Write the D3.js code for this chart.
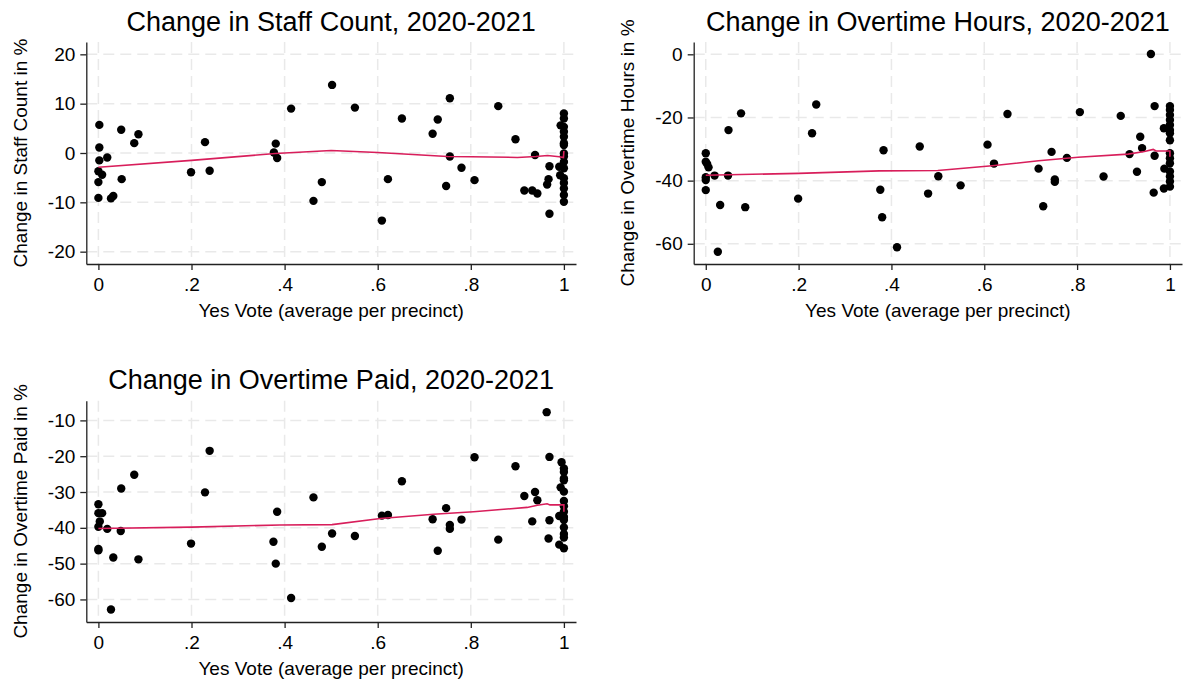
<!DOCTYPE html>
<html>
<head>
<meta charset="utf-8">
<script src="https://cdn.jsdelivr.net/npm/d3@7"></script>
<style>
  body { margin: 0; background: #fff; }
  svg text { font-family: "Liberation Sans", Arial, sans-serif; fill: #000; }
</style>
</head>
<body>
<svg class="chart" width="1183" height="685"></svg>
<script>

// shared axis ticks
let xTicks = [0, 0.2, 0.4, 0.6, 0.8, 1]

// Change in Staff Count
let staffX = [0.002, 0.002, 0.002, 0.019, 0, 0.008, 0, 0, 0.027, 0.032, 0.05, 0.049, 0.077, 0.086,
  0.199, 0.229, 0.239, 0.381, 0.377, 0.384, 0.414, 0.462, 0.48, 0.502, 0.551, 0.609, 0.622, 0.652,
  0.718, 0.729, 0.747, 0.755, 0.755, 0.78, 0.808, 0.859, 0.896, 0.915, 0.932, 0.943, 0.938,
  0.964, 0.967, 0.969, 0.969, 0.99, 0.993, 0.992,
  1, 1, 1, 1, 1, 1, 1, 1, 1, 1, 1, 1, 1, 1, 1, 1]
let staffY = [5.7, 1.1, -1.5, -0.9, -3.7, -4.4, -5.9, -9.1, -9.2, -8.7, -5.3, 4.7, 2.0, 3.8,
  -3.9, 2.2, -3.6, 1.9, 0.1, -1.0, 9.0, -9.7, -5.9, 13.8, 9.2, -13.7, -5.3, 7.0,
  3.9, 6.8, -6.7, 11.1, -0.7, -3.0, -5.5, 9.5, 2.8, -7.6, -7.6, -8.2, -0.4,
  -6.4, -5.3, -2.7, -12.3, -2.8, 5.6, -4.5,
  8.0, 7.0, 5.3, 4.3, 3.3, 2.0, 1.6, -0.1, -0.7, -1.8, -3.1, -5.1, -6.1, -7.2, -8.5, -9.9]
let staffFitX = [0, 0.2, 0.38, 0.5, 0.6, 0.75, 0.8, 0.9, 0.94, 0.965, 0.99, 0.999, 1]
let staffFitY = [-2.9, -1.5, -0.1, 0.5, 0.1, -0.7, -0.75, -0.9, -0.7, -0.5, -0.75, -0.9, 0.4]
let staffTicks = [-20, -10, 0, 10, 20]

// Change in Overtime Hours
let hoursX = [0.076, 0.049, 0, 0, 0.003, 0.006, 0, 0, 0.019, 0.048, 0, 0.031, 0.085, 0.026,
  0.199, 0.229, 0.238, 0.376, 0.383, 0.38, 0.412, 0.461, 0.479, 0.501, 0.549, 0.607, 0.621, 0.65,
  0.717, 0.727, 0.745, 0.752, 0.752, 0.778, 0.806, 0.857, 0.894, 0.913, 0.936, 0.94, 0.929,
  0.959, 0.967, 0.967, 0.965, 0.987, 0.988, 0.987,
  1, 1, 1, 1, 1, 1, 1, 1, 1, 1, 1, 1, 1, 1, 1]
let hoursY = [-18.7, -24.0, -31.3, -34.0, -34.7, -35.8, -38.9, -39.8, -38.4, -38.4, -43.0, -47.7, -48.4, -62.5,
  -45.7, -25.0, -15.9, -42.9, -30.4, -51.6, -61.1, -29.2, -44.1, -38.6, -41.5, -28.6, -34.6, -18.9,
  -36.2, -48.1, -30.9, -39.6, -40.4, -32.8, -18.3, -38.7, -19.5, -31.6, -26.1, -29.7, -37.2,
  0.1, -16.4, -32.1, -43.8, -23.4, -36.2, -42.5,
  -16.4, -17.6, -19.2, -20.8, -22.4, -24.0, -25.0, -27.2, -31.3, -32.9, -34.5, -37.1, -38.7, -40.3, -41.9]
let hoursFitX = [0, 0.2, 0.374, 0.5, 0.617, 0.717, 0.802, 0.91, 0.945, 0.964, 0.97, 1, 1]
let hoursFitY = [-38.3, -37.7, -36.9, -36.8, -35.3, -33.7, -32.6, -31.6, -30.8, -30.1, -30.6, -30.6, -32.4]
let hoursTicks = [-60, -40, -20, 0]

// Change in Overtime Paid
let paidX = [0, 0, 0.008, 0.003, 0, 0.019, 0.048, 0, 0, 0.032, 0.086, 0.027, 0.049, 0.077,
  0.199, 0.229, 0.239, 0.376, 0.384, 0.381, 0.414, 0.462, 0.48, 0.502, 0.551, 0.609, 0.622, 0.652,
  0.718, 0.729, 0.747, 0.755, 0.755, 0.78, 0.808, 0.859, 0.896, 0.915, 0.938, 0.943, 0.932,
  0.963, 0.969, 0.969, 0.967, 0.99, 0.99, 0.995, 0.993,
  1, 1, 1, 1, 1, 1, 1, 1, 1, 1, 1, 1, 1, 1]
let paidY = [-33.4, -35.9, -35.9, -38.2, -39.7, -40.3, -40.9, -45.9, -46.3, -48.3, -48.8, -62.8, -29.0, -25.2,
  -44.4, -30.1, -18.5, -43.9, -35.5, -50.0, -59.6, -31.5, -45.3, -41.6, -42.3, -36.6, -36.4, -27.0,
  -37.6, -46.4, -34.5, -39.2, -40.3, -37.7, -20.3, -43.3, -22.8, -31.1, -30.0, -32.3, -38.2,
  -7.7, -20.2, -37.9, -43.0, -44.7, -36.7, -21.7, -28.7,
  -23.4, -24.4, -26.2, -26.7, -29.9, -32.5, -34.0, -35.5, -37.0, -37.8, -39.9, -41.7, -42.7, -45.7]
let paidFitX = [0, 0.2, 0.39, 0.502, 0.606, 0.72, 0.806, 0.921, 0.943, 0.964, 0.97, 1, 1]
let paidFitY = [-40.2, -39.8, -39.2, -39.1, -37.4, -36.2, -35.5, -34.3, -33.7, -33.3, -33.6, -33.6, -35.5]
let paidTicks = [-60, -50, -40, -30, -20, -10]

let svg = d3.select(".chart")

function xFormat(d) {
  if (d === 0) return "0"
  if (d === 1) return "1"
  return String(d).replace("0.", ".")
}

// plain hyphen like the original, not d3's unicode minus
function yFormat(d) {
  return String(d)
}

function drawPanel(p) {
  let width = p.right - p.left
  let height = p.bottom - p.top

  let x = d3.scaleLinear().domain([-0.026, 1.026]).range([0, width])
  let y = d3.scaleLinear().domain(p.yDomain).range([height, 0])

  let g = svg.append("g")
      .attr("transform", "translate(" + p.left + "," + p.top + ")")

  // dashed grid
  g.selectAll(".hgrid")
      .data(p.yTicks)
    .enter().append("line")
      .attr("x1", 0).attr("x2", width)
      .attr("y1", d => y(d)).attr("y2", d => y(d))
      .attr("stroke", "#e9e9e9")
      .attr("stroke-width", 1.5)
      .attr("stroke-dasharray", "11,6")

  g.selectAll(".vgrid")
      .data(xTicks)
    .enter().append("line")
      .attr("x1", d => x(d)).attr("x2", d => x(d))
      .attr("y1", 0).attr("y2", height)
      .attr("stroke", "#e9e9e9")
      .attr("stroke-width", 1.5)
      .attr("stroke-dasharray", "11,6")

  // points
  g.selectAll(".dot")
      .data(p.xs)
    .enter().append("circle")
      .attr("cx", d => x(d))
      .attr("cy", (d, i) => y(p.ys[i]))
      .attr("r", 4.2)
      .attr("fill", "#000")

  // lowess line
  let line = d3.line()
    .x(d => x(d))
    .y((d, i) => y(p.fitY[i]))

  g.append("path")
      .datum(p.fitX)
      .attr("fill", "none")
      .attr("stroke", "#d81e5b")
      .attr("stroke-width", 1.6)
      .attr("d", line)

  // axes
  let xAxis = g.append("g")
      .attr("transform", "translate(0," + height + ")")
      .call(d3.axisBottom(x).tickValues(xTicks).tickFormat(xFormat).tickSize(6).tickPadding(8).tickSizeOuter(0))

  let yAxis = g.append("g")
      .call(d3.axisLeft(y).tickValues(p.yTicks).tickFormat(yFormat).tickSize(6).tickPadding(5).tickSizeOuter(0))

  ;[xAxis, yAxis].forEach(function(a) {
    a.select(".domain").attr("stroke", "#222").attr("stroke-width", 1.3)
    a.selectAll(".tick line").attr("stroke", "#222").attr("stroke-width", 1.3)
    a.selectAll("text")
        .attr("font-family", "Liberation Sans, Arial, sans-serif")
        .attr("font-size", 19)
        .attr("fill", "#000")
  })

  // titles
  g.append("text")
      .attr("x", width / 2)
      .attr("y", -11.5)
      .attr("text-anchor", "middle")
      .attr("font-size", 27)
      .text(p.title)

  g.append("text")
      .attr("x", width / 2)
      .attr("y", height + 53)
      .attr("text-anchor", "middle")
      .attr("font-size", 19)
      .text("Yes Vote (average per precinct)")

  g.append("text")
      .attr("transform", "translate(-59.5," + height / 2 + ") rotate(-90)")
      .attr("text-anchor", "middle")
      .attr("font-size", 19)
      .text(p.yLabel)
}

drawPanel({
  left: 86.3, top: 42, right: 576, bottom: 264,
  xs: staffX, ys: staffY, fitX: staffFitX, fitY: staffFitY,
  yDomain: [-22.5, 22.5], yTicks: staffTicks,
  title: "Change in Staff Count, 2020-2021",
  yLabel: "Change in Staff Count in %"
})

drawPanel({
  left: 693.7, top: 42, right: 1182, bottom: 264,
  xs: hoursX, ys: hoursY, fitX: hoursFitX, fitY: hoursFitY,
  yDomain: [-66.4, 3.9], yTicks: hoursTicks,
  title: "Change in Overtime Hours, 2020-2021",
  yLabel: "Change in Overtime Hours in %"
})

drawPanel({
  left: 86.3, top: 400.7, right: 576, bottom: 622,
  xs: paidX, ys: paidY, fitX: paidFitX, fitY: paidFitY,
  yDomain: [-66.3, -4.5], yTicks: paidTicks,
  title: "Change in Overtime Paid, 2020-2021",
  yLabel: "Change in Overtime Paid in %"
})

</script>
</body>
</html>
